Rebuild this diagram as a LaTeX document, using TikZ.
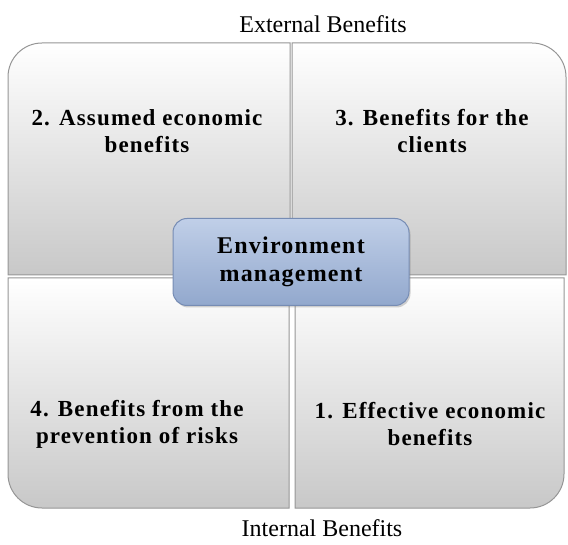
\documentclass[tikz,border=0pt]{standalone}
\usepackage{fontspec}
\setmainfont{Liberation Serif}
\newfontfamily\spacedserif{Liberation Serif}[LetterSpace=5]
\usetikzlibrary{shadows}
\definecolor{quadedge}{RGB}{150,150,150}
\definecolor{quadbot}{RGB}{200,200,200}
\definecolor{boxtop}{RGB}{192,207,232}
\definecolor{boxbot}{RGB}{146,168,205}
\definecolor{boxedge}{RGB}{118,140,180}
\tikzset{
  quad/.style={top color=white, bottom color=quadbot, draw=quadedge, line width=1pt},
  quadtext/.style={align=center, font=\spacedserif\bfseries\fontsize{23}{27}\selectfont},
  centerbox/.style={rounded corners=14pt, top color=boxtop, bottom color=boxbot,
     draw=boxedge, line width=1pt, drop shadow={opacity=0.35, shadow xshift=1.5pt, shadow yshift=-2pt}},
  sidelabel/.style={font=\fontsize{24}{28}\selectfont}
}
\begin{document}
\begin{tikzpicture}[x=1pt,y=-1pt]
\useasboundingbox (0,0) rectangle (568,545);
% quadrants
\path[quad] (8,275) [rounded corners=34pt] -- (8,43) [sharp corners] -- (290,43) -- (290,275) -- cycle;
\path[quad] (292,275) -- (292,43) [rounded corners=34pt] -- (566,43) [sharp corners] -- (566,275) -- cycle;
\path[quad] (8,278) [rounded corners=34pt] -- (8,508) [sharp corners] -- (289,508) -- (289,278) -- cycle;
\path[quad] (295,278) -- (295,508) [rounded corners=34pt] -- (564,508) [sharp corners] -- (564,278) -- cycle;
% quadrant texts
\node[quadtext] (q2) at (147,131) {2. Assumed economic\\benefits};
\node[quadtext] (q3) at (432,131) {3. Benefits for the\\clients};
\node[quadtext] (q4) at (137,424) {4. Benefits from the\\prevention of risks};
\node[quadtext] (q1) at (430,424) {1. Effective economic\\benefits};
% center box
\node[centerbox, minimum width=236pt, minimum height=87pt, align=center,
      font=\spacedserif\bfseries\fontsize{24}{28}\selectfont] (env) at (291,262) {Environment\\management};
% side labels
\node[sidelabel] (ext) at (323,24) {External Benefits};
\node[sidelabel] (int) at (322,528) {Internal Benefits};
\end{tikzpicture}
\end{document}
